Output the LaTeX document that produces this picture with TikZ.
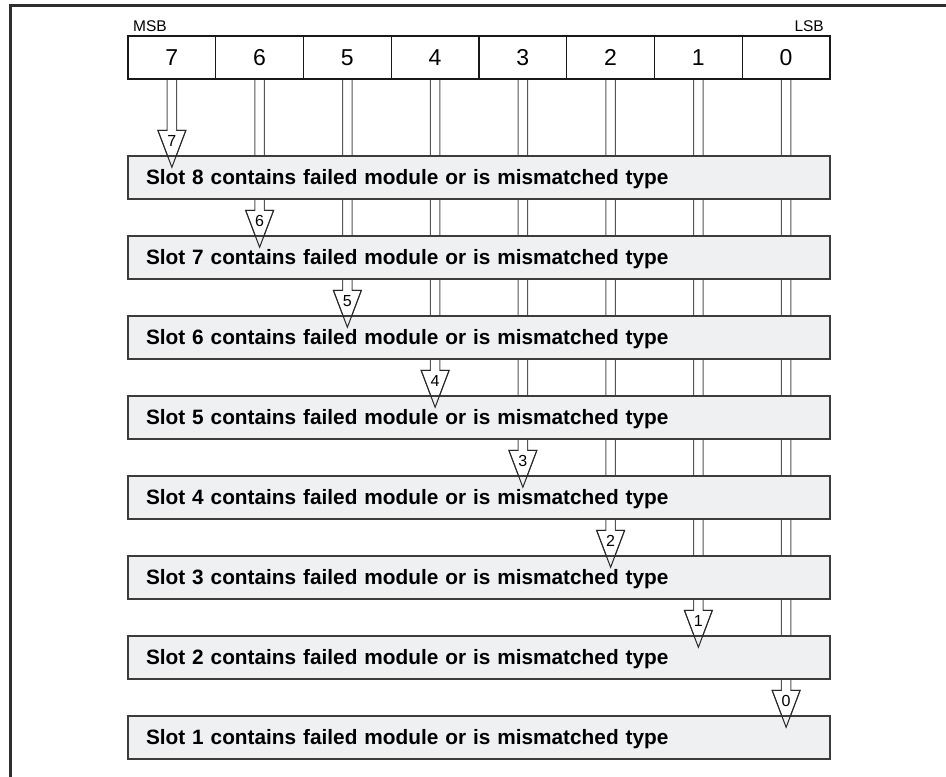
\documentclass[tikz,border=0pt]{standalone}
\usepackage{fontspec}
\setmainfont{Liberation Sans}
\usepackage{tikz}
\usetikzlibrary{calc}
\usetikzlibrary{backgrounds}

\definecolor{barfill}{HTML}{EFF0F2}
\definecolor{barline}{HTML}{3C3C3C}
\definecolor{shaftline}{HTML}{555555}
\definecolor{framecol}{HTML}{2E2E2E}

\tikzset{
  bitbox/.style={draw=black!90, line width=1.1pt, minimum width=87.75pt, minimum height=43pt,
    inner sep=0pt, font=\fontsize{23}{26}\selectfont},
  slotbar/.style={draw=barline, fill=barfill, line width=1.4pt, text width=666pt, align=left,
    inner xsep=18pt, inner ysep=0pt, minimum height=43pt, text height=14.9pt, text depth=0pt,
    font=\bfseries\fontsize{20.8}{24}\selectfont},
  shaft/.style={draw=shaftline, fill=white, line width=1pt},
  head/.style={draw=black!85, line width=1pt},
  headnum/.style={inner sep=0pt, font=\fontsize{16}{18}\selectfont}
}

\begin{document}
\begin{tikzpicture}[x=1pt,y=1pt]

\useasboundingbox (0,0) rectangle (946,777);

%frame
\draw[framecol, line width=2.6pt] (10.5,0) -- (10.5,771.7) -- (946,771.7);

%bits 7..0
\foreach \i in {7,...,0}
  \node[bitbox] (b\i) at ({128+87.75*(7-\i)+43.875},719.5) {\i};

\node[anchor=west, inner sep=0pt, font=\fontsize{15.5}{17}\selectfont] (msb) at (133,751) {MSB};
\node[anchor=east, inner sep=0pt, font=\fontsize{15.5}{17}\selectfont] (lsb) at (824,751) {LSB};

%slots 8..1
\foreach \j in {8,...,1}
  \node[slotbar] (s\j) at (479,{599.5-80*(8-\j)}) {Slot \j\ contains failed module or is mismatched type};

%arrows, bit i -> slot i+1
\foreach \i in {7,...,0} {
  \pgfmathtruncatemacro{\j}{\i+1}
  \coordinate (h\i) at ($(b\i.south |- s\j.north)+(0,25)$);
  \coordinate (t\i) at ($(b\i.south |- s\j.north)+(0,-12)$);
  \begin{scope}[on background layer]
    \path[shaft] ($(b\i.south)+(-4.7,0)$) -- ($(h\i)+(-4.7,0)$) -- ($(h\i)+(-14,0)$) -- (t\i)
      -- ($(h\i)+(14,0)$) -- ($(h\i)+(4.7,0)$) -- ($(b\i.south)+(4.7,0)$);
  \end{scope}
  \draw[head] ($(h\i)+(-4.7,0)$) -- ($(h\i)+(-14,0)$) -- (t\i) -- ($(h\i)+(14,0)$) -- ($(h\i)+(4.7,0)$);
  \node[headnum] (n\i) at ($(h\i)+(0,-11)$) {\i};
}

\end{tikzpicture}
\end{document}
